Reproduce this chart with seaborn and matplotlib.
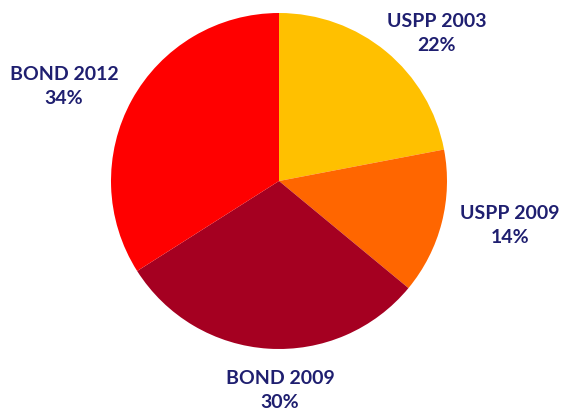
import numpy as np
import matplotlib
matplotlib.use("Agg")
import matplotlib.pyplot as plt
import seaborn as sns

labels = ["USPP 2003", "USPP 2009", "BOND 2009", "BOND 2012"]
shares = [22, 14, 30, 34]
colors = ["#FFC000", "#FF6600", "#A50021", "#FF0000"]

# label centers in pixel coords of the 564x411 image (layout only)
label_px = [(437, 33), (510, 225), (280, 391), (64, 86)]

sns.set_theme(style="white")
plt.rcParams['font.family'] = ['Lato', 'DejaVu Sans']

W, H = 564, 411
cx, cy, r = 279, 181, 168

fig = plt.figure(figsize=(W / 100, H / 100), dpi=100)
ax = fig.add_axes([0, 0, 1, 1])
ax.pie(shares, colors=colors, startangle=90, counterclock=False, radius=1,
       wedgeprops=dict(linewidth=0))
ax.set_xlim(-cx / r, (W - cx) / r)
ax.set_ylim((cy - H) / r, cy / r)
ax.set_aspect('equal')
ax.axis('off')

for name, val, (px, py) in zip(labels, shares, label_px):
    ax.text((px - cx) / r, (cy - py) / r, f"{name}\n{val}%", ha='center', va='center',
            fontsize=14, fontweight='bold', color='#1F1F70', linespacing=1.5)

fig.savefig('out.png', dpi=100)
